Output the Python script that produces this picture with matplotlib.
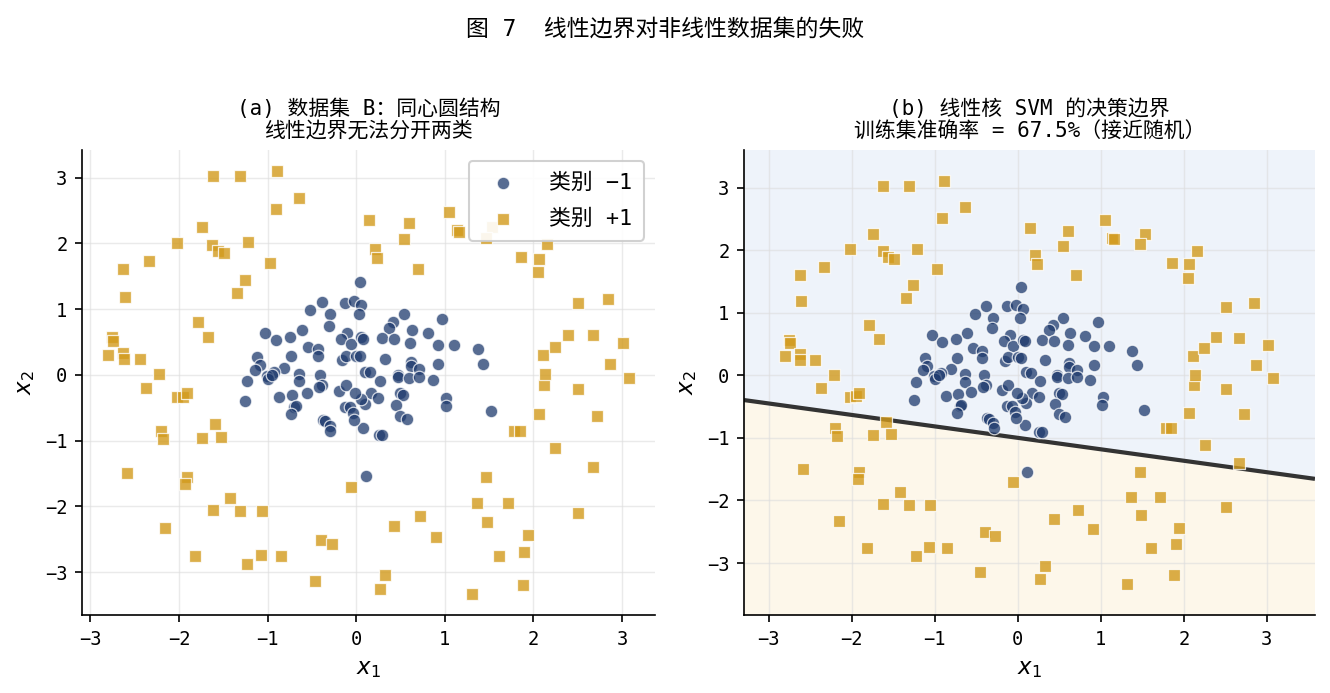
import numpy as np
import matplotlib.pyplot as plt

plt.rcParams['font.family'] = ['DejaVu Sans Mono', 'Noto Sans CJK SC']
plt.rcParams['axes.unicode_minus'] = True

# class -1 (inner circle)
neg_x1 = [0.04, -0.39, -0.13, -0.02, 0.06, -0.52, -0.30, 0.03, -0.31, -1.03,
          -0.61, -0.75, -0.91, -0.10, -0.17, -0.06, 0.06, 0.08, -0.54, -0.43,
          -0.43, -0.73, -1.12, -1.09, -1.14, -0.81, -0.93, -1.01, -1.23, -0.64,
          -0.41, -0.16, -0.12, 0.00, 0.04, 0.10, 0.54, 0.97, 0.42, 0.37,
          0.63, 0.81, 0.29, 0.43, 0.61, 0.92, 1.10, 1.37, 1.43, 0.33,
          0.62, 0.62, 0.71, 0.92, 0.16, 0.27, 0.47, 0.47, 0.60, 0.71,
          0.87, 0.17, 0.25, 0.10, 0.05, 0.50, 0.53, 0.45, 0.50, 0.57,
          1.02, 1.01, 1.52, 0.08, 0.26, 0.29, 0.11, -1.00, -0.95, -1.25,
          -0.87, -0.72, -0.64, -0.56, -0.70, -0.68, -0.73, -0.38, -0.42, -0.19,
          -0.12, -0.13, -0.07, -0.04, -0.02, -0.01, -0.37, -0.35, -0.30, -0.29]
neg_x2 = [1.41, 1.11, 1.10, 1.12, 1.06, 0.98, 0.92, 0.92, 0.75, 0.64,
          0.68, 0.58, 0.53, 0.64, 0.55, 0.47, 0.57, 0.55, 0.43, 0.39,
          0.28, 0.28, 0.27, 0.15, 0.08, 0.10, 0.04, -0.01, -0.10, 0.02,
          0.00, 0.23, 0.29, 0.29, 0.28, 0.05, 0.92, 0.85, 0.81, 0.72,
          0.68, 0.63, 0.56, 0.55, 0.49, 0.46, 0.46, 0.39, 0.17, 0.24,
          0.19, 0.14, 0.09, 0.17, 0.04, -0.09, 0.00, -0.03, -0.05, -0.03,
          -0.08, -0.28, -0.35, -0.44, -0.36, -0.28, -0.30, -0.46, -0.62, -0.67,
          -0.35, -0.48, -0.55, -0.80, -0.91, -0.91, -1.54, -0.06, 0.00, -0.39,
          -0.33, -0.30, -0.10, -0.27, -0.49, -0.48, -0.60, -0.16, -0.18, -0.24,
          -0.15, -0.49, -0.49, -0.58, -0.69, -0.28, -0.68, -0.70, -0.77, -0.85]

# class +1 (outer ring)
pos_x1 = [-1.62, -1.31, -0.89, -0.64, -0.91, 0.15, -1.74, -2.02, -1.63, -1.56,
          -1.49, -1.22, -2.34, -0.97, -2.63, -1.26, -1.35, -2.61, -1.79, -1.67,
          -2.76, -2.75, -2.80, -2.63, -2.62, -2.44, -2.22, -2.37, -2.02, -1.95,
          -1.91, -1.59, -2.20, -2.18, -1.74, -1.53, -2.59, -1.91, -1.93, -1.42,
          -1.62, -1.31, -1.06, -2.16, -1.82, -1.23, -1.07, -0.85, -0.40, -0.27,
          -0.46, -0.06, 2.12, 2.11, 2.13, 2.51, 3.08, 2.06, 2.72, 1.78,
          1.85, 2.25, 2.67, 1.47, 1.36, 1.71, 2.51, 1.48, 0.72, 0.43,
          0.90, 1.94, 1.90, 1.61, 0.33, 0.27, 1.88, 1.31, 0.60, 1.05,
          1.14, 1.16, 1.53, 1.47, 0.54, 0.21, 0.23, 0.70, 2.16, 1.86,
          2.06, 2.05, 2.51, 2.84, 2.39, 2.67, 2.24, 3.01, 2.87]
pos_x2 = [3.03, 3.03, 3.10, 2.69, 2.52, 2.36, 2.25, 2.01, 1.98, 1.89,
          1.85, 2.02, 1.73, 1.70, 1.61, 1.44, 1.24, 1.18, 0.80, 0.58,
          0.57, 0.52, 0.31, 0.34, 0.24, 0.24, 0.01, -0.20, -0.34, -0.33,
          -0.28, -0.75, -0.85, -0.97, -0.96, -0.94, -1.49, -1.55, -1.66, -1.87,
          -2.06, -2.07, -2.07, -2.33, -2.76, -2.88, -2.74, -2.76, -2.51, -2.57,
          -3.14, -1.71, -0.16, 0.31, 0.01, -0.22, -0.04, -0.60, -0.62, -0.85,
          -0.85, -1.11, -1.40, -1.55, -1.95, -1.95, -2.10, -2.23, -2.15, -2.30,
          -2.46, -2.44, -2.70, -2.76, -3.05, -3.25, -3.19, -3.33, 2.31, 2.48,
          2.20, 2.18, 2.25, 2.09, 2.07, 1.92, 1.78, 1.61, 1.99, 1.80,
          1.77, 1.56, 1.09, 1.15, 0.61, 0.60, 0.43, 0.48, 0.17]

# linear SVM: w . x + b = 0
svm_w = [0.183, 1.0]
svm_b = 1.0

neg_color = '#1f3b6e'
pos_color = '#d29a1c'

fig = plt.figure(figsize=(1330 / 150, 693 / 150), dpi=150)
ax1 = fig.add_axes([0.0617, 0.1126, 0.4308, 0.671])
ax2 = fig.add_axes([0.5594, 0.1126, 0.4293, 0.671])

fig.suptitle('图 7  线性边界对非线性数据集的失败', fontsize=11, y=0.975)


def draw_points(ax):
    ax.scatter(neg_x1, neg_x2, s=36, marker='o', color=neg_color, alpha=0.75,
               edgecolors='white', linewidths=0.6, label='类别 −1', zorder=3)
    ax.scatter(pos_x1, pos_x2, s=36, marker='s', color=pos_color, alpha=0.8,
               edgecolors='white', linewidths=0.6, label='类别 +1', zorder=3)


def style(ax):
    ax.grid(True, color='#dddddd', alpha=0.6, linewidth=0.7)
    ax.set_axisbelow(True)
    for s in ['top', 'right']:
        ax.spines[s].set_visible(False)
    ax.tick_params(labelsize=9)
    ax.set_xlabel('$x_1$', fontsize=11)
    ax.set_ylabel('$x_2$', fontsize=11)


# (a) data set
draw_points(ax1)
style(ax1)
ax1.set_xticks(range(-3, 4))
ax1.set_yticks(range(-3, 4))
ax1.set_title('(a) 数据集 B：同心圆结构\n线性边界无法分开两类', fontsize=10, linespacing=1.15)
ax1.legend(loc='upper right', fontsize=10.5, framealpha=0.9,
           handletextpad=1.1, labelspacing=0.7, borderpad=0.55)

# (b) linear SVM
all_x1 = np.array(neg_x1 + pos_x1)
all_x2 = np.array(neg_x2 + pos_x2)
x_min, x_max = all_x1.min() - 0.5, all_x1.max() + 0.5
y_min, y_max = all_x2.min() - 0.5, all_x2.max() + 0.5
xx, yy = np.meshgrid(np.linspace(x_min, x_max, 400), np.linspace(y_min, y_max, 400))
zz = svm_w[0] * xx + svm_w[1] * yy + svm_b
ax2.contourf(xx, yy, (zz > 0).astype(int), levels=[-0.5, 0.5, 1.5],
             colors=['#fdf7ea', '#eef3fa'], zorder=0)
ax2.contour(xx, yy, zz, levels=[0], colors='#333333', linewidths=2, zorder=2)
draw_points(ax2)
style(ax2)
ax2.set_xlim(x_min, x_max)
ax2.set_ylim(y_min, y_max)
ax2.set_xticks(range(-3, 4))
ax2.set_yticks(range(-3, 4))
ax2.set_title('(b) 线性核 SVM 的决策边界\n训练集准确率 = 67.5%（接近随机）', fontsize=10, linespacing=1.15)

fig.savefig('out.png', dpi=150)
